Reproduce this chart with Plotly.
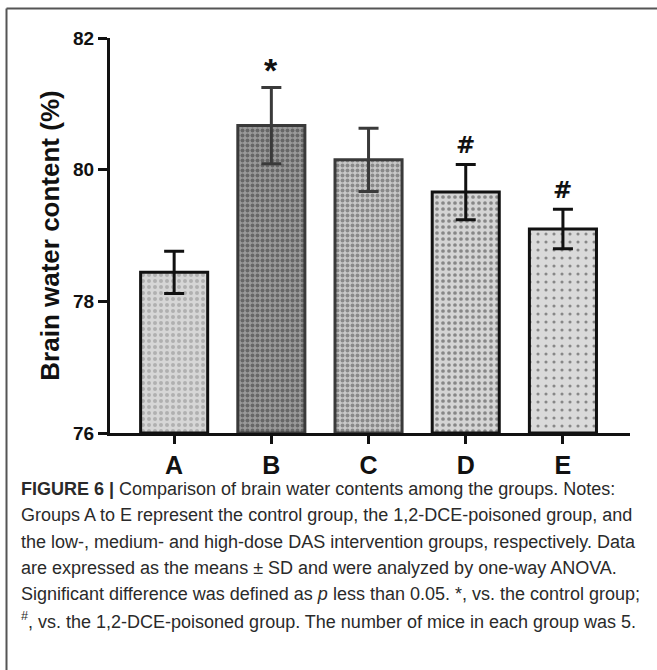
import plotly.graph_objects as go

groups = ["A", "B", "C", "D", "E"]
means = [78.44, 80.67, 80.15, 79.66, 79.10]
sds = [0.32, 0.58, 0.48, 0.42, 0.30]
marks = ["", "*", "", "#", "#"]
y_ticks = [76, 78, 80, 82]

W, H = 657, 670
L, R, T, B = 110, 27, 38, 237
PW, PH = W - L - R, H - T - B

def px(x):
    return (x - L) / PW

def py(y):
    return (H - B - y) / PH

bg = ["#d6d6d6", "#9a9a9a", "#c8c8c8", "#d4d4d4", "#dadada"]
fg = ["#8a8a8a", "#333333", "#4a4a4a", "#3a3a3a", "#333333"]
shape = [".", ".", ".", ".", "."]
size = [6, 5, 5, 6, 8]
solid = [0.35, 0.5, 0.5, 0.3, 0.12]
edge = ["#111111", "#3a3a3a", "#3a3a3a", "#111111", "#111111"]

fig = go.Figure()
for i, g in enumerate(groups):
    fig.add_trace(go.Bar(
        x=[g], y=[means[i] - 76], base=76, width=0.69,
        marker=dict(color=bg[i], line=dict(color=edge[i], width=3),
                    pattern=dict(shape=shape[i], fgcolor=fg[i], bgcolor=bg[i],
                                 size=size[i], solidity=solid[i], fillmode="overlay")),
        error_y=dict(type="data", array=[sds[i]], color=edge[i], thickness=3, width=10),
        showlegend=False, hoverinfo="skip",
    ))
    if marks[i]:
        fig.add_annotation(x=g, y=means[i] + sds[i], text="<b>%s</b>" % marks[i],
                           showarrow=False, yanchor="bottom", yshift=4 if marks[i] == "#" else -4,
                           font=dict(family="DejaVu Sans, Liberation Sans" if marks[i] == "#" else "Liberation Sans, Arial",
                                     size=34 if marks[i] == "*" else 23, color="#111"))

fig.update_layout(
    width=W, height=H, margin=dict(l=L, r=R, t=T, b=B),
    paper_bgcolor="white", plot_bgcolor="white",
    bargap=0.3,
    xaxis=dict(range=[-0.66, 4.69], showline=True, linecolor="#111", linewidth=3,
               ticks="outside", ticklen=8, tickwidth=3, tickcolor="#111",
               tickfont=dict(family="Liberation Sans, Arial", size=25, color="#111"),
               tickvals=groups, ticktext=["<b>%s</b>" % g for g in groups],
               showgrid=False, zeroline=False),
    yaxis=dict(range=[76, 82], tickvals=y_ticks, ticktext=["<b>%d</b>" % v for v in y_ticks],
               showline=True, linecolor="#111", linewidth=3,
               ticks="outside", ticklen=9, tickwidth=3, tickcolor="#111",
               tickfont=dict(family="Liberation Sans, Arial", size=19, color="#111"),
               showgrid=False, zeroline=False,
               title=dict(text="<b>Brain water content (%)</b>", standoff=6,
                          font=dict(family="Liberation Sans, Arial", size=26, color="#111"))),
)

# frame lines (top and left)
fig.add_shape(type="line", xref="paper", yref="paper", x0=px(6.5), x1=px(660), y0=py(8.5), y1=py(8.5),
              line=dict(color="#555", width=2))
fig.add_shape(type="line", xref="paper", yref="paper", x0=px(6.5), x1=px(6.5), y0=py(8.5), y1=py(675),
              line=dict(color="#555", width=2))

caption = [
    "<b>FIGURE 6 |</b> Comparison of brain water contents among the groups. Notes:",
    "Groups A to E represent the control group, the 1,2-DCE-poisoned group, and",
    "the low-, medium- and high-dose DAS intervention groups, respectively. Data",
    "are expressed as the means \u00b1 SD and were analyzed by one-way ANOVA.",
    "Significant difference was defined as <i>p</i> less than 0.05. *, vs. the control group;",
    "<sup>#</sup>, vs. the 1,2-DCE-poisoned group. The number of mice in each group was 5.",
]
y0 = 489
for k, line in enumerate(caption):
    fig.add_annotation(xref="paper", yref="paper", x=px(20), y=py(y0 + 26.3 * k),
                       xanchor="left", yanchor="middle", showarrow=False, align="left",
                       borderpad=0,
                       text=line, font=dict(family="Liberation Sans, Arial", size=18, color="#2a2a2a"))

fig.write_html("out.html")
